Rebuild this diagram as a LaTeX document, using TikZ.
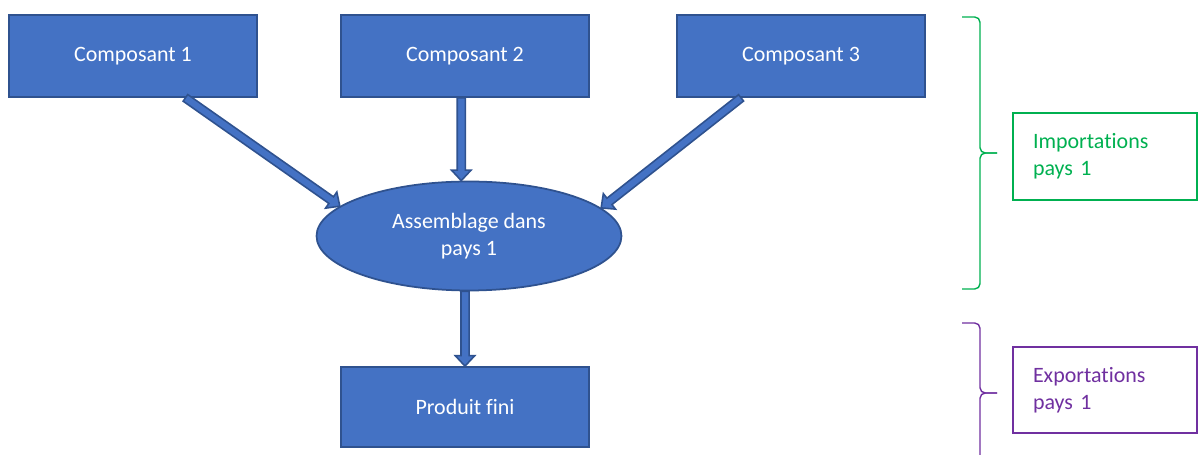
\documentclass[tikz,border=0pt]{standalone}
\usepackage{fontspec}
\setmainfont{Carlito}[Ligatures={NoCommon}]
\usepackage{tikz}
\usetikzlibrary{calc,shapes.geometric}
\definecolor{boxfill}{HTML}{4472C4}
\definecolor{boxline}{HTML}{2F528F}
\definecolor{imp}{HTML}{00B050}
\definecolor{exp}{HTML}{7030A0}
\tikzset{
  box/.style={rectangle, fill=boxfill, draw=boxline, line width=1pt, text=white,
    font=\fontsize{12.5}{15.5}\selectfont, minimum width=4.96cm, minimum height=1.64cm},
  oval/.style={ellipse, fill=boxfill, draw=boxline, line width=1pt, text=white, align=center,
    font=\fontsize{12.5}{15.5}\selectfont, minimum width=6.1cm, minimum height=2.18cm, inner sep=0pt},
  arr/.style={fill=boxfill, draw=boxline, line width=0.9pt, line join=miter},
  brace/.style={line width=0.8pt, rounded corners=3pt},
  tag/.style={rectangle, line width=0.8pt, align=left, text width=2.88cm, inner xsep=0.4cm,
    minimum width=3.68cm, font=\fontsize{12.5}{15.5}\selectfont},
}
% block arrow from #1 to #2
\newcommand{\blockarrow}[2]{%
  \coordinate (bah) at ($(#2)!6pt!(#1)$);
  \filldraw[arr] ($(#1)!2.3pt!90:(#2)$) -- ($(bah)!2.3pt!90:(#2)$) -- ($(bah)!5.6pt!90:(#2)$)
    -- (#2) -- ($(bah)!5.6pt!-90:(#2)$) -- ($(bah)!2.3pt!-90:(#2)$) -- ($(#1)!2.3pt!-90:(#2)$) -- cycle;
}

\begin{document}
\begin{tikzpicture}[x=0.02cm, y=-0.02cm]
  \useasboundingbox (0,0) rectangle (1200,455);

  \node[box] (c1) at (133,56) {Composant 1};
  \node[box] (c2) at (465,56) {Composant 2};
  \node[box] (c3) at (801,56) {Composant 3};
  \node[oval] (asm) at (469,236) {Assemblage dans\\pays 1};
  \node[box, minimum height=1.6cm] (pf) at (465,407) {Produit fini};

  \coordinate (c1out) at ($(c1.south west)!0.71!(c1.south east)$);
  \coordinate (c2out) at ($(c2.south west)!0.485!(c2.south east)$);
  \coordinate (c3out) at ($(c3.south west)!0.26!(c3.south east)$);
  \coordinate (asmin) at (asm.north -| c2out);
  \coordinate (asmout) at (asm.south -| pf.north);

  \blockarrow{c1out}{asm.167}
  \blockarrow{c2out}{asmin}
  \blockarrow{c3out}{asm.12}
  \blockarrow{asmout}{pf.north}

  % brackets on the right
  \draw[brace, imp] (962,17) -| (980,153) -- (997,153);
  \draw[brace, imp] (997,153) -- (980,153) |- (962,289);
  \draw[brace, exp] (962,323) -| (980,393) -- (997,393);
  \draw[brace, exp] (997,393) -- (980,393) -- (980,460);

  \node[tag, draw=imp, text=imp, minimum height=1.74cm] (imports) at (1105,156.5) {Importations\\pays 1};
  \node[tag, draw=exp, text=exp, minimum height=1.72cm] (exports) at (1105,390) {Exportations\\pays 1};
\end{tikzpicture}
\end{document}
